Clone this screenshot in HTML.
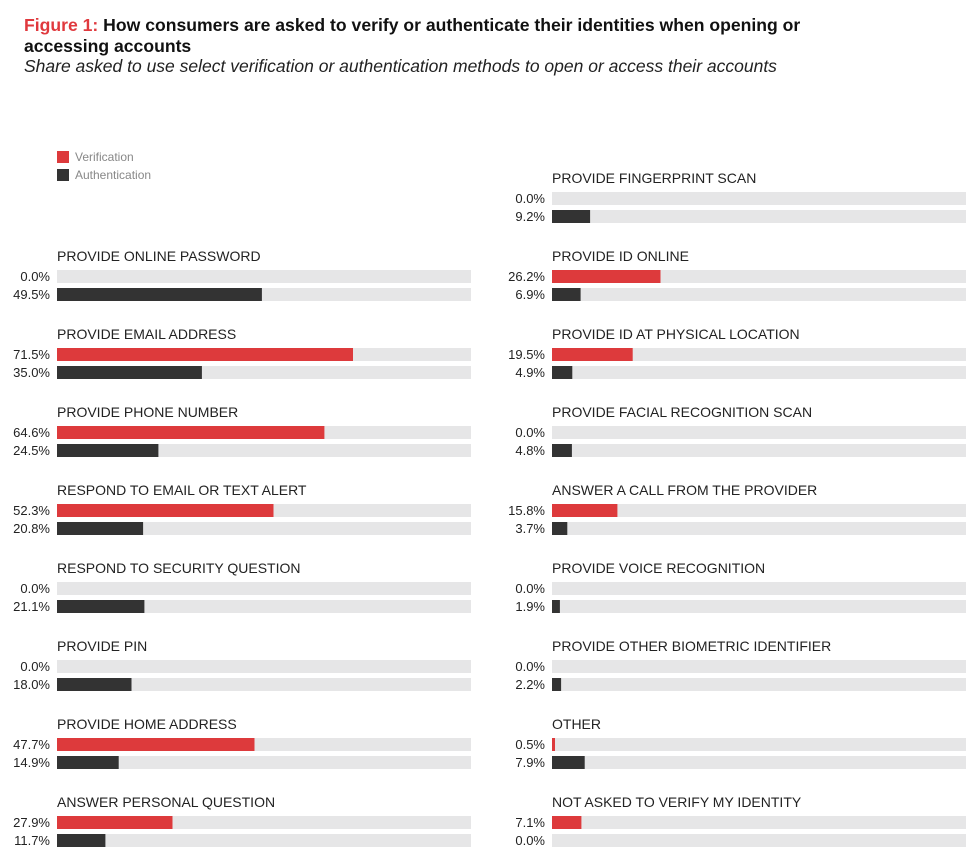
<!DOCTYPE html>
<html><head><meta charset="utf-8"><style>
html,body{margin:0;padding:0;background:#fff;}
svg{display:block;font-family:"Liberation Sans",sans-serif;}
.t{font-size:14px;fill:#222}
.v{font-size:13px;fill:#222;text-anchor:end}
.bg{fill:#e6e6e7}
.r{fill:#dd3a3c}
.k{fill:#333}
</style></head><body>
<svg width="974" height="868" xmlns="http://www.w3.org/2000/svg">
<text x="24" y="31" font-size="17.6" font-weight="bold" fill="#111"><tspan fill="#e0393e">Figure 1:</tspan> How consumers are asked to verify or authenticate their identities when opening or</text>
<text x="24" y="52" font-size="17.6" font-weight="bold" fill="#111">accessing accounts</text>
<text x="24" y="72" font-size="17.5" font-style="italic" fill="#222">Share asked to use select verification or authentication methods to open or access their accounts</text>
<rect x="57" y="151" width="12" height="12" fill="#dd3a3c"/>
<text x="75" y="161" font-size="12" fill="#888">Verification</text>
<rect x="57" y="169" width="12" height="12" fill="#333"/>
<text x="75" y="179" font-size="12" fill="#888">Authentication</text>

<!-- Left column -->
<g transform="translate(57,0)">
<text class="t" x="0" y="261">PROVIDE ONLINE PASSWORD</text>
<rect class="bg" x="0" y="270" width="414" height="13"/><rect class="bg" x="0" y="288" width="414" height="13"/>
<rect class="k" x="0" y="288" width="204.9" height="13"/>
<text class="v" x="-7" y="281">0.0%</text><text class="v" x="-7" y="299">49.5%</text>

<text class="t" x="0" y="339">PROVIDE EMAIL ADDRESS</text>
<rect class="bg" x="0" y="348" width="414" height="13"/><rect class="bg" x="0" y="366" width="414" height="13"/>
<rect class="r" x="0" y="348" width="296" height="13"/><rect class="k" x="0" y="366" width="144.9" height="13"/>
<text class="v" x="-7" y="359">71.5%</text><text class="v" x="-7" y="377">35.0%</text>

<text class="t" x="0" y="417">PROVIDE PHONE NUMBER</text>
<rect class="bg" x="0" y="426" width="414" height="13"/><rect class="bg" x="0" y="444" width="414" height="13"/>
<rect class="r" x="0" y="426" width="267.4" height="13"/><rect class="k" x="0" y="444" width="101.4" height="13"/>
<text class="v" x="-7" y="437">64.6%</text><text class="v" x="-7" y="455">24.5%</text>

<text class="t" x="0" y="495">RESPOND TO EMAIL OR TEXT ALERT</text>
<rect class="bg" x="0" y="504" width="414" height="13"/><rect class="bg" x="0" y="522" width="414" height="13"/>
<rect class="r" x="0" y="504" width="216.5" height="13"/><rect class="k" x="0" y="522" width="86.1" height="13"/>
<text class="v" x="-7" y="515">52.3%</text><text class="v" x="-7" y="533">20.8%</text>

<text class="t" x="0" y="573">RESPOND TO SECURITY QUESTION</text>
<rect class="bg" x="0" y="582" width="414" height="13"/><rect class="bg" x="0" y="600" width="414" height="13"/>
<rect class="k" x="0" y="600" width="87.4" height="13"/>
<text class="v" x="-7" y="593">0.0%</text><text class="v" x="-7" y="611">21.1%</text>

<text class="t" x="0" y="651">PROVIDE PIN</text>
<rect class="bg" x="0" y="660" width="414" height="13"/><rect class="bg" x="0" y="678" width="414" height="13"/>
<rect class="k" x="0" y="678" width="74.5" height="13"/>
<text class="v" x="-7" y="671">0.0%</text><text class="v" x="-7" y="689">18.0%</text>

<text class="t" x="0" y="729">PROVIDE HOME ADDRESS</text>
<rect class="bg" x="0" y="738" width="414" height="13"/><rect class="bg" x="0" y="756" width="414" height="13"/>
<rect class="r" x="0" y="738" width="197.5" height="13"/><rect class="k" x="0" y="756" width="61.7" height="13"/>
<text class="v" x="-7" y="749">47.7%</text><text class="v" x="-7" y="767">14.9%</text>

<text class="t" x="0" y="807">ANSWER PERSONAL QUESTION</text>
<rect class="bg" x="0" y="816" width="414" height="13"/><rect class="bg" x="0" y="834" width="414" height="13"/>
<rect class="r" x="0" y="816" width="115.5" height="13"/><rect class="k" x="0" y="834" width="48.4" height="13"/>
<text class="v" x="-7" y="827">27.9%</text><text class="v" x="-7" y="845">11.7%</text>
</g>

<!-- Right column -->
<g transform="translate(552,0)">
<text class="t" x="0" y="183">PROVIDE FINGERPRINT SCAN</text>
<rect class="bg" x="0" y="192" width="414" height="13"/><rect class="bg" x="0" y="210" width="414" height="13"/>
<rect class="k" x="0" y="210" width="38.1" height="13"/>
<text class="v" x="-7" y="203">0.0%</text><text class="v" x="-7" y="221">9.2%</text>

<text class="t" x="0" y="261">PROVIDE ID ONLINE</text>
<rect class="bg" x="0" y="270" width="414" height="13"/><rect class="bg" x="0" y="288" width="414" height="13"/>
<rect class="r" x="0" y="270" width="108.5" height="13"/><rect class="k" x="0" y="288" width="28.6" height="13"/>
<text class="v" x="-7" y="281">26.2%</text><text class="v" x="-7" y="299">6.9%</text>

<text class="t" x="0" y="339">PROVIDE ID AT PHYSICAL LOCATION</text>
<rect class="bg" x="0" y="348" width="414" height="13"/><rect class="bg" x="0" y="366" width="414" height="13"/>
<rect class="r" x="0" y="348" width="80.7" height="13"/><rect class="k" x="0" y="366" width="20.3" height="13"/>
<text class="v" x="-7" y="359">19.5%</text><text class="v" x="-7" y="377">4.9%</text>

<text class="t" x="0" y="417">PROVIDE FACIAL RECOGNITION SCAN</text>
<rect class="bg" x="0" y="426" width="414" height="13"/><rect class="bg" x="0" y="444" width="414" height="13"/>
<rect class="k" x="0" y="444" width="19.9" height="13"/>
<text class="v" x="-7" y="437">0.0%</text><text class="v" x="-7" y="455">4.8%</text>

<text class="t" x="0" y="495">ANSWER A CALL FROM THE PROVIDER</text>
<rect class="bg" x="0" y="504" width="414" height="13"/><rect class="bg" x="0" y="522" width="414" height="13"/>
<rect class="r" x="0" y="504" width="65.4" height="13"/><rect class="k" x="0" y="522" width="15.3" height="13"/>
<text class="v" x="-7" y="515">15.8%</text><text class="v" x="-7" y="533">3.7%</text>

<text class="t" x="0" y="573">PROVIDE VOICE RECOGNITION</text>
<rect class="bg" x="0" y="582" width="414" height="13"/><rect class="bg" x="0" y="600" width="414" height="13"/>
<rect class="k" x="0" y="600" width="7.9" height="13"/>
<text class="v" x="-7" y="593">0.0%</text><text class="v" x="-7" y="611">1.9%</text>

<text class="t" x="0" y="651">PROVIDE OTHER BIOMETRIC IDENTIFIER</text>
<rect class="bg" x="0" y="660" width="414" height="13"/><rect class="bg" x="0" y="678" width="414" height="13"/>
<rect class="k" x="0" y="678" width="9.1" height="13"/>
<text class="v" x="-7" y="671">0.0%</text><text class="v" x="-7" y="689">2.2%</text>

<text class="t" x="0" y="729">OTHER</text>
<rect class="bg" x="0" y="738" width="414" height="13"/><rect class="bg" x="0" y="756" width="414" height="13"/>
<rect class="r" x="0" y="738" width="3" height="13"/><rect class="k" x="0" y="756" width="32.7" height="13"/>
<text class="v" x="-7" y="749">0.5%</text><text class="v" x="-7" y="767">7.9%</text>

<text class="t" x="0" y="807">NOT ASKED TO VERIFY MY IDENTITY</text>
<rect class="bg" x="0" y="816" width="414" height="13"/><rect class="bg" x="0" y="834" width="414" height="13"/>
<rect class="r" x="0" y="816" width="29.4" height="13"/>
<text class="v" x="-7" y="827">7.1%</text><text class="v" x="-7" y="845">0.0%</text>
</g>
</svg>
</body></html>
